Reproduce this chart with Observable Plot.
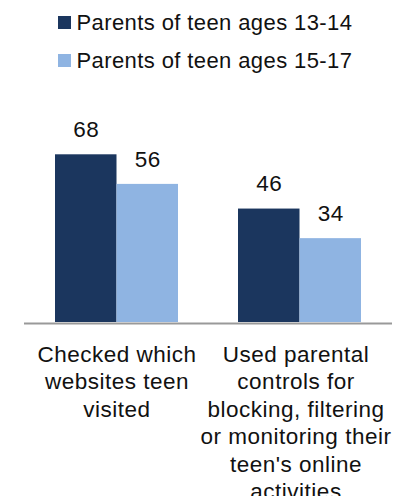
<!DOCTYPE html>
<html>
<head>
<meta charset="utf-8">
<script src="https://cdn.jsdelivr.net/npm/d3@7"></script>
<script src="https://cdn.jsdelivr.net/npm/@observablehq/plot@0.6"></script>
<style>
  html, body { margin: 0; padding: 0; background: #fff; }
  body { width: 394px; height: 496px; overflow: hidden; font-family: "Liberation Sans", Arial, sans-serif; color: #111; }
  #legend { height: 80px; box-sizing: border-box; padding-top: 3.5px; padding-left: 58px; font-size: 22px; letter-spacing: 0.4px; }
  .row { display: flex; align-items: center; height: 38px; line-height: 38px; white-space: nowrap; }
  .sw { width: 12.5px; height: 12.5px; margin-right: 6px; flex: none; }
  svg { display: block; }
</style>
</head>
<body>
<div id="legend"></div>
<div id="chart"></div>
<script>
const categories = ["Checked which websites teen visited", "Used parental controls for blocking, filtering or monitoring their teen's online activities"];
const tickLabels = ["Checked which\nwebsites teen\nvisited", "Used parental\ncontrols for\nblocking, filtering\nor monitoring their\nteen's online\nactivities"];
const seriesNames = ["Parents of teen ages 13-14", "Parents of teen ages 15-17"];
const ages1314 = [68, 46];
const ages1517 = [56, 34];
const colors = ["#1b365e", "#8fb4e2"];

// legend
const legend = document.getElementById("legend");
seriesNames.forEach((name, i) => {
  const row = document.createElement("div");
  row.className = "row";
  const sw = document.createElement("span");
  sw.className = "sw";
  sw.style.background = colors[i];
  row.appendChild(sw);
  row.appendChild(document.createTextNode(name));
  legend.appendChild(row);
});

const data = categories.map((c, i) => ({category: c, a: ages1314[i], b: ages1517[i]}));
const labelOf = new Map(categories.map((c, i) => [c, tickLabels[i]]));

const half = 61.5;
const axisOpts = {tickSize: 0, tickPadding: 19.5, tickFormat: d => labelOf.get(d), fontSize: 22.5, lineHeight: 1.225, fill: "#111", label: null};
const chart = Plot.plot({
  width: 394,
  height: 416,
  marginLeft: 24,
  marginRight: 2,
  marginTop: 74.3,
  marginBottom: 174,
  style: {fontFamily: "Liberation Sans, Arial, sans-serif", fontSize: "22.5px", letterSpacing: "0.5px", color: "#111", background: "#fff"},
  x: {domain: categories, paddingInner: 0.328, paddingOuter: 0.169, label: null},
  y: {domain: [0, 68], axis: null},
  marks: [
    Plot.barY(data, {x: "category", y: "a", fill: colors[0], insetRight: half}),
    Plot.barY(data, {x: "category", y: "b", fill: colors[1], insetLeft: half}),
    Plot.text(data, {x: "category", y: "a", text: d => String(d.a), dx: -half / 2, dy: -17.6, lineAnchor: "bottom", fontSize: 22.5, fill: "#111"}),
    Plot.text(data, {x: "category", y: "b", text: d => String(d.b), dx: half / 2, dy: -17.6, lineAnchor: "bottom", fontSize: 22.5, fill: "#111"}),
    Plot.ruleY([0], {stroke: "#999", strokeWidth: 2, dy: 1}),
    Plot.axisX({...axisOpts, ticks: [categories[0]]}),
    Plot.axisX({...axisOpts, ticks: [categories[1]], dx: -4})
  ]
});
document.getElementById("chart").appendChild(chart);
</script>
</body>
</html>
